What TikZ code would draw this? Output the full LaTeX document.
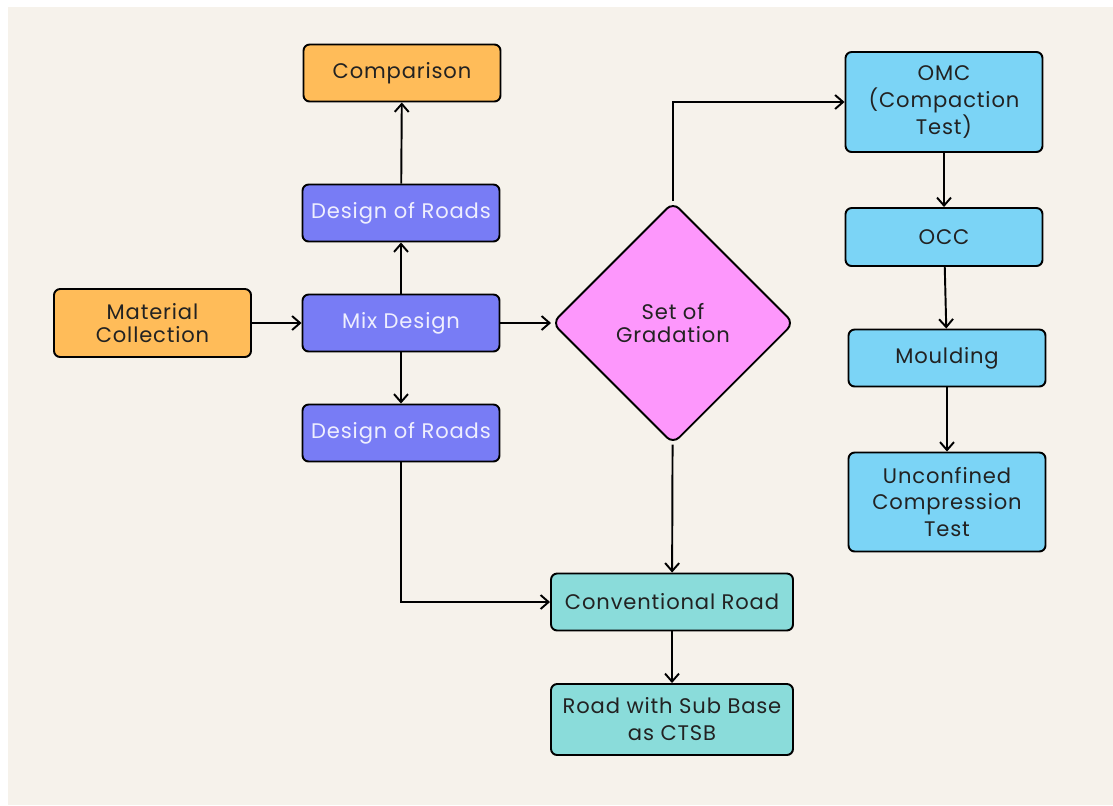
\documentclass[tikz,border=0pt]{standalone}
\usepackage{fontspec}
\setmainfont{Poppins}
\usepackage{xcolor}
\usetikzlibrary{arrows.meta, shapes.geometric}

\definecolor{paper}{HTML}{F6F2EB}
\definecolor{orangebox}{HTML}{FFBC59}
\definecolor{purplebox}{HTML}{787CF5}
\definecolor{pinkbox}{HTML}{FD97FC}
\definecolor{bluebox}{HTML}{7BD4F6}
\definecolor{tealbox}{HTML}{8ADCDA}
\definecolor{ink}{HTML}{222222}

\tikzset{
  box/.style={draw=black, line width=1.1pt, rounded corners=3.5pt, align=center,
    text=ink, font=\fontsize{12}{13.5}\selectfont\addfontfeatures{LetterSpace=4},
    minimum width=3.94cm, minimum height=1.14cm, inner sep=1pt},
  tall/.style={box, font=\fontsize{12}{15.3}\selectfont\addfontfeatures{LetterSpace=4}},
  purple/.style={box, fill=purplebox, text=white!88!purplebox},
  flow/.style={->, line width=1.1pt, >={Straight Barb[length=1.6mm, width=2.8mm]}},
}

\begin{document}
\begin{tikzpicture}
                \fill[white] (0,0) rectangle (22.26,-16.1);
                \useasboundingbox (0,0) rectangle (22.26,-16.1);
                \fill[paper] (0.16,-0.14) rectangle (22.26,-16.1);
                % left column
                \node[box, fill=orangebox, minimum height=1.36cm] at (3.05,-6.46) (mat) {Material\\Collection};
                \node[purple] at (8.02,-6.46) (mix) {Mix Design};
                \node[purple] at (8.02,-4.26) (dtop) {Design of Roads};
                \node[purple] at (8.02,-8.66) (dbot) {Design of Roads};
                \node[box, fill=orangebox] at (8.04,-1.46) (comp) {Comparison};
                % centre
                \node[box, diamond, fill=pinkbox, minimum width=4.84cm, minimum height=4.84cm,
                      aspect=1, rounded corners=5pt] at (13.46,-6.46) (grad) {Set of\\Gradation};
                \node[box, fill=tealbox, minimum width=4.84cm] at (13.44,-12.04) (conv) {Conventional Road};
                \node[tall, fill=tealbox, minimum width=4.84cm, minimum height=1.42cm] at (13.44,-14.39) (ctsb) {Road with Sub Base\\as CTSB};
                % right column
                \node[tall, fill=bluebox, minimum height=2cm] at (18.88,-2.04) (omc) {OMC\\(Compaction\\Test)};
                \node[box, fill=bluebox, minimum height=1.16cm] at (18.88,-4.74) (occ) {OCC};
                \node[box, fill=bluebox] at (18.94,-7.16) (mould) {Moulding};
                \node[tall, fill=bluebox, minimum height=1.98cm] at (18.94,-10.04) (ucs) {Unconfined\\Compression\\Test};
                \path[flow]
                    (mat)  edge (mix)
                    (mix)  edge (grad)
                    (mix)  edge (dtop)
                    (mix)  edge (dbot)
                    (dtop)  edge (comp)
                    (grad)  edge (conv)
                    (conv)  edge (ctsb)
                    (omc)  edge (occ)
                    (occ)  edge (mould)
                    (mould)  edge (ucs);
                \draw[flow] (grad.north) |- (omc.west);
                \draw[flow] (dbot.south) |- (conv.west);
            \end{tikzpicture}
\end{document}
